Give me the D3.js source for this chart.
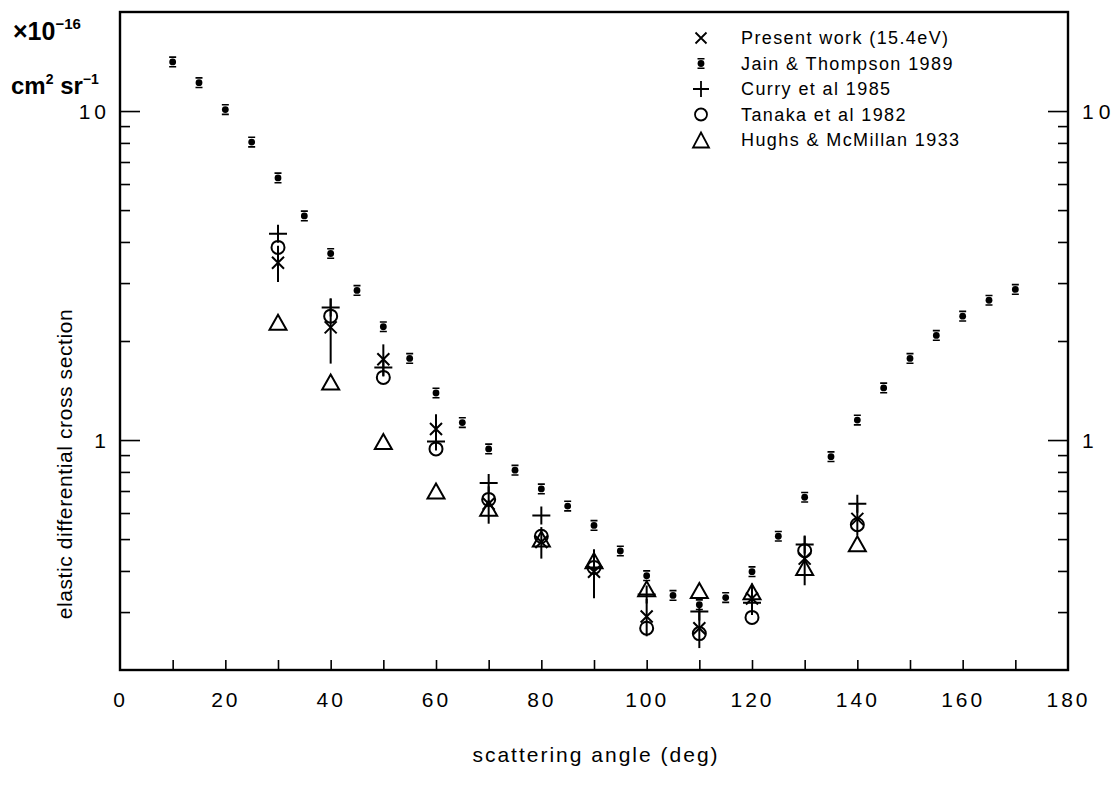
<!DOCTYPE html>
<html>
<head>
<meta charset="utf-8">
<script src="https://cdn.jsdelivr.net/npm/d3@7"></script>
<style>
  html, body { margin: 0; padding: 0; background: #fff; }
  svg { display: block; }
  text { font-family: "Liberation Sans", "DejaVu Sans", Arial, sans-serif; fill: #000; }
</style>
</head>
<body>
<svg id="chart" width="1119" height="793"></svg>
<script>
// Elastic differential cross sections (units of 1e-16 cm^2 sr^-1) vs scattering angle
const jainAngles = [10, 15, 20, 25, 30, 35, 40, 45, 50, 55, 60, 65, 70, 75, 80, 85, 90,
                    95, 100, 105, 110, 115, 120, 125, 130, 135, 140, 145, 150, 155, 160, 165, 170];
const jainValues = [14.1, 12.2, 10.1, 8.05, 6.26, 4.8, 3.69, 2.85, 2.21, 1.77, 1.39, 1.13, 0.94,
                    0.81, 0.71, 0.63, 0.55, 0.46, 0.387, 0.337, 0.316, 0.332, 0.398, 0.51, 0.67,
                    0.89, 1.15, 1.44, 1.77, 2.08, 2.38, 2.66, 2.87];

const expAngles = [30, 40, 50, 60, 70, 80, 90, 100, 110, 120, 130, 140];
const presentValues = [3.46, 2.20, 1.76, 1.08, 0.64, 0.49, 0.398, 0.291, 0.268, 0.33, 0.436, 0.576];
const presentRelErr = [0.126, 0.224, 0.11, 0.11, 0.13, 0.11, 0.17, 0.13, 0.13, 0.11, 0.17, 0.11];
const curryValues   = [4.24, 2.53, 1.66, 0.99, 0.74, 0.59, 0.41, 0.339, 0.301, 0.32, 0.481, 0.64];
const tanakaValues  = [3.85, 2.38, 1.55, 0.94, 0.66, 0.51, 0.41, 0.268, 0.258, 0.289, 0.461, 0.553];
const hughsValues   = [2.28, 1.50, 0.99, 0.70, 0.62, 0.50, 0.43, 0.353, 0.349, 0.346, 0.41, 0.484];

const xTickValues = [0, 20, 40, 60, 80, 100, 120, 140, 160, 180];
const yTickLabels = [1, 10];
const legendLabels = ["Present work (15.4eV)", "Jain & Thompson 1989", "Curry et al 1985",
                      "Tanaka et al 1982", "Hughs & McMillan 1933"];

const svg = d3.select("#chart");
const W = 1119, H = 793;
const plot = { left: 120, right: 1068, top: 12, bottom: 670 };

svg.append("rect").attr("width", W).attr("height", H).attr("fill", "#fff");

const x = d3.scaleLinear().domain([0, 180]).range([plot.left, plot.right]);
const y = d3.scaleLog().domain([0.2, 20]).range([plot.bottom, plot.top]);

const SW = 2;
const labFont = "'DejaVu Sans', sans-serif";

// ---- axes ----
// bottom: inward ticks every 10 degrees
const xMinorTicks = d3.range(10, 180, 10);
svg.append("g")
  .attr("transform", `translate(0,${plot.bottom})`)
  .call(d3.axisBottom(x).tickValues(xMinorTicks).tickSize(-10).tickFormat(""))
  .call(g => g.select(".domain").remove())
  .call(g => g.selectAll("line").attr("stroke", "#000").attr("stroke-width", 1.6));

// bottom labels every 20 degrees
svg.append("g")
  .attr("transform", `translate(0,${plot.bottom})`)
  .call(d3.axisBottom(x).tickValues(xTickValues).tickSize(0).tickPadding(22).tickFormat(d3.format("d")))
  .call(g => g.select(".domain").remove())
  .call(g => g.selectAll("text")
      .attr("font-size", 21).attr("letter-spacing", "3px")
      .attr("font-family", labFont).attr("font-weight", 200)
      .attr("fill", "#000"));

// log-scale tick sets
const yMajor = [1, 10];
const yMinor = [];
[0.1, 1, 10].forEach(dec => {
  for (let k = 2; k <= 9; k++) {
    const v = +(k * dec).toPrecision(3);
    if (v > 0.2 && v < 20) yMinor.push(v);
  }
});

function yTicks(axisFn, xpos, inward) {
  svg.append("g")
    .attr("transform", `translate(${xpos},0)`)
    .call(axisFn(y).tickValues(yMinor).tickSize(inward * 10).tickFormat(""))
    .call(g => g.select(".domain").remove())
    .call(g => g.selectAll("line").attr("stroke", "#000").attr("stroke-width", 1.6));
  svg.append("g")
    .attr("transform", `translate(${xpos},0)`)
    .call(axisFn(y).tickValues(yMajor).tickSize(inward * 20).tickFormat(""))
    .call(g => g.select(".domain").remove())
    .call(g => g.selectAll("line").attr("stroke", "#000").attr("stroke-width", 1.6));
}
yTicks(d3.axisLeft, plot.left, -1);
yTicks(d3.axisRight, plot.right, -1);

// y labels on both sides
svg.append("g").selectAll("text").data(yTickLabels).join("text")
  .attr("x", plot.left - 10).attr("y", d => y(d)).attr("dy", "0.36em")
  .attr("text-anchor", "end").attr("font-size", 21).attr("font-weight", 200)
  .attr("font-family", labFont).attr("letter-spacing", "4px")
  .text(d => d);
svg.append("g").selectAll("text").data(yTickLabels).join("text")
  .attr("x", plot.right + 14).attr("y", d => y(d)).attr("dy", "0.36em")
  .attr("text-anchor", "start").attr("font-size", 21).attr("font-weight", 200)
  .attr("font-family", labFont).attr("letter-spacing", "5px")
  .text(d => d);

// frame
svg.append("rect")
  .attr("x", plot.left).attr("y", plot.top)
  .attr("width", plot.right - plot.left).attr("height", plot.bottom - plot.top)
  .attr("fill", "none").attr("stroke", "#000").attr("stroke-width", 2.4);

// axis titles
svg.append("text")
  .attr("x", (plot.left + plot.right) / 2 + 2).attr("y", 762)
  .attr("text-anchor", "middle").attr("font-size", 21).attr("font-weight", 200)
  .attr("font-family", labFont).attr("letter-spacing", "2px")
  .text("scattering angle (deg)");

svg.append("text")
  .attr("transform", "translate(72,464) rotate(-90)")
  .attr("text-anchor", "middle").attr("font-size", 21)
  .attr("letter-spacing", "0.6px")
  .text("elastic differential cross section");

// units block
const units = svg.append("text").attr("x", 13).attr("y", 40)
  .attr("font-size", 25).attr("font-weight", 700);
units.append("tspan").text("\u00d710");
units.append("tspan").attr("dy", -11).attr("font-size", 15).text("\u221216");
const units2 = svg.append("text").attr("x", 11).attr("y", 94)
  .attr("font-size", 24).attr("font-weight", 700);
units2.append("tspan").text("cm");
units2.append("tspan").attr("dy", -10).attr("font-size", 14).text("2");
units2.append("tspan").attr("dy", 10).text(" sr");
units2.append("tspan").attr("dy", -10).attr("font-size", 14).text("\u22121");

// ---- marker shapes ----
function timesPath(r) { return `M${-r},${-r}L${r},${r}M${-r},${r}L${r},${-r}`; }
function plusPath(r) { return `M${-r},0L${r},0M0,${-r}L0,${r}`; }
function trianglePath(w, h) { return `M0,${-h / 2}L${w / 2},${h / 2}L${-w / 2},${h / 2}Z`; }

function drawJain(g) {
  g.append("circle").attr("r", 3.4).attr("fill", "#000");
  g.append("path").attr("d", "M-3.5,-4.8L3.5,-4.8M-3.5,4.8L3.5,4.8")
    .attr("stroke", "#000").attr("stroke-width", 1.6);
}

const dataLayer = svg.append("g");

// Jain & Thompson
dataLayer.selectAll("g.jain").data(jainAngles.map((a, i) => [a, jainValues[i]])).join("g")
  .attr("class", "jain")
  .attr("transform", d => `translate(${x(d[0])},${y(d[1])})`)
  .each(function () { drawJain(d3.select(this)); });

// Hughs & McMillan (triangles)
dataLayer.selectAll("path.hughs").data(expAngles.map((a, i) => [a, hughsValues[i]])).join("path")
  .attr("class", "hughs")
  .attr("transform", d => `translate(${x(d[0])},${y(d[1])})`)
  .attr("d", trianglePath(17, 15))
  .attr("fill", "none").attr("stroke", "#000").attr("stroke-width", SW);

// Tanaka (circles)
dataLayer.selectAll("circle.tanaka").data(expAngles.map((a, i) => [a, tanakaValues[i]])).join("circle")
  .attr("class", "tanaka")
  .attr("cx", d => x(d[0])).attr("cy", d => y(d[1])).attr("r", 6.5)
  .attr("fill", "none").attr("stroke", "#000").attr("stroke-width", SW);

// Curry (plus)
dataLayer.selectAll("path.curry").data(expAngles.map((a, i) => [a, curryValues[i]])).join("path")
  .attr("class", "curry")
  .attr("transform", d => `translate(${x(d[0])},${y(d[1])})`)
  .attr("d", plusPath(9))
  .attr("fill", "none").attr("stroke", "#000").attr("stroke-width", SW);

// Present work: error bars and crosses
const present = expAngles.map((a, i) => ({ a, v: presentValues[i], e: presentRelErr[i] }));
dataLayer.selectAll("line.err").data(present).join("line")
  .attr("class", "err")
  .attr("x1", d => x(d.a)).attr("x2", d => x(d.a))
  .attr("y1", d => y(d.v * (1 + d.e))).attr("y2", d => y(d.v * (1 - d.e)))
  .attr("stroke", "#000").attr("stroke-width", SW);
dataLayer.selectAll("path.present").data(present).join("path")
  .attr("class", "present")
  .attr("transform", d => `translate(${x(d.a)},${y(d.v)})`)
  .attr("d", timesPath(6))
  .attr("fill", "none").attr("stroke", "#000").attr("stroke-width", SW);

// ---- legend ----
const legend = svg.append("g").attr("transform", "translate(701,38)");
const rowH = 25.5;
legendLabels.forEach((label, i) => {
  const row = legend.append("g").attr("transform", `translate(0,${i * rowH})`);
  if (i === 0) row.append("path").attr("d", timesPath(5.5)).attr("fill", "none").attr("stroke", "#000").attr("stroke-width", 1.8);
  if (i === 1) drawJain(row);
  if (i === 2) row.append("path").attr("d", plusPath(8)).attr("fill", "none").attr("stroke", "#000").attr("stroke-width", 1.8);
  if (i === 3) row.append("circle").attr("r", 6).attr("fill", "none").attr("stroke", "#000").attr("stroke-width", 1.8);
  if (i === 4) row.append("path").attr("d", trianglePath(16, 15)).attr("fill", "none").attr("stroke", "#000").attr("stroke-width", 1.8);
  row.append("text").attr("x", 40).attr("dy", "0.35em")
    .attr("font-size", 18).attr("font-family", labFont).attr("font-weight", 200)
    .attr("letter-spacing", "1.4px")
    .text(label);
});
</script>
</body>
</html>
